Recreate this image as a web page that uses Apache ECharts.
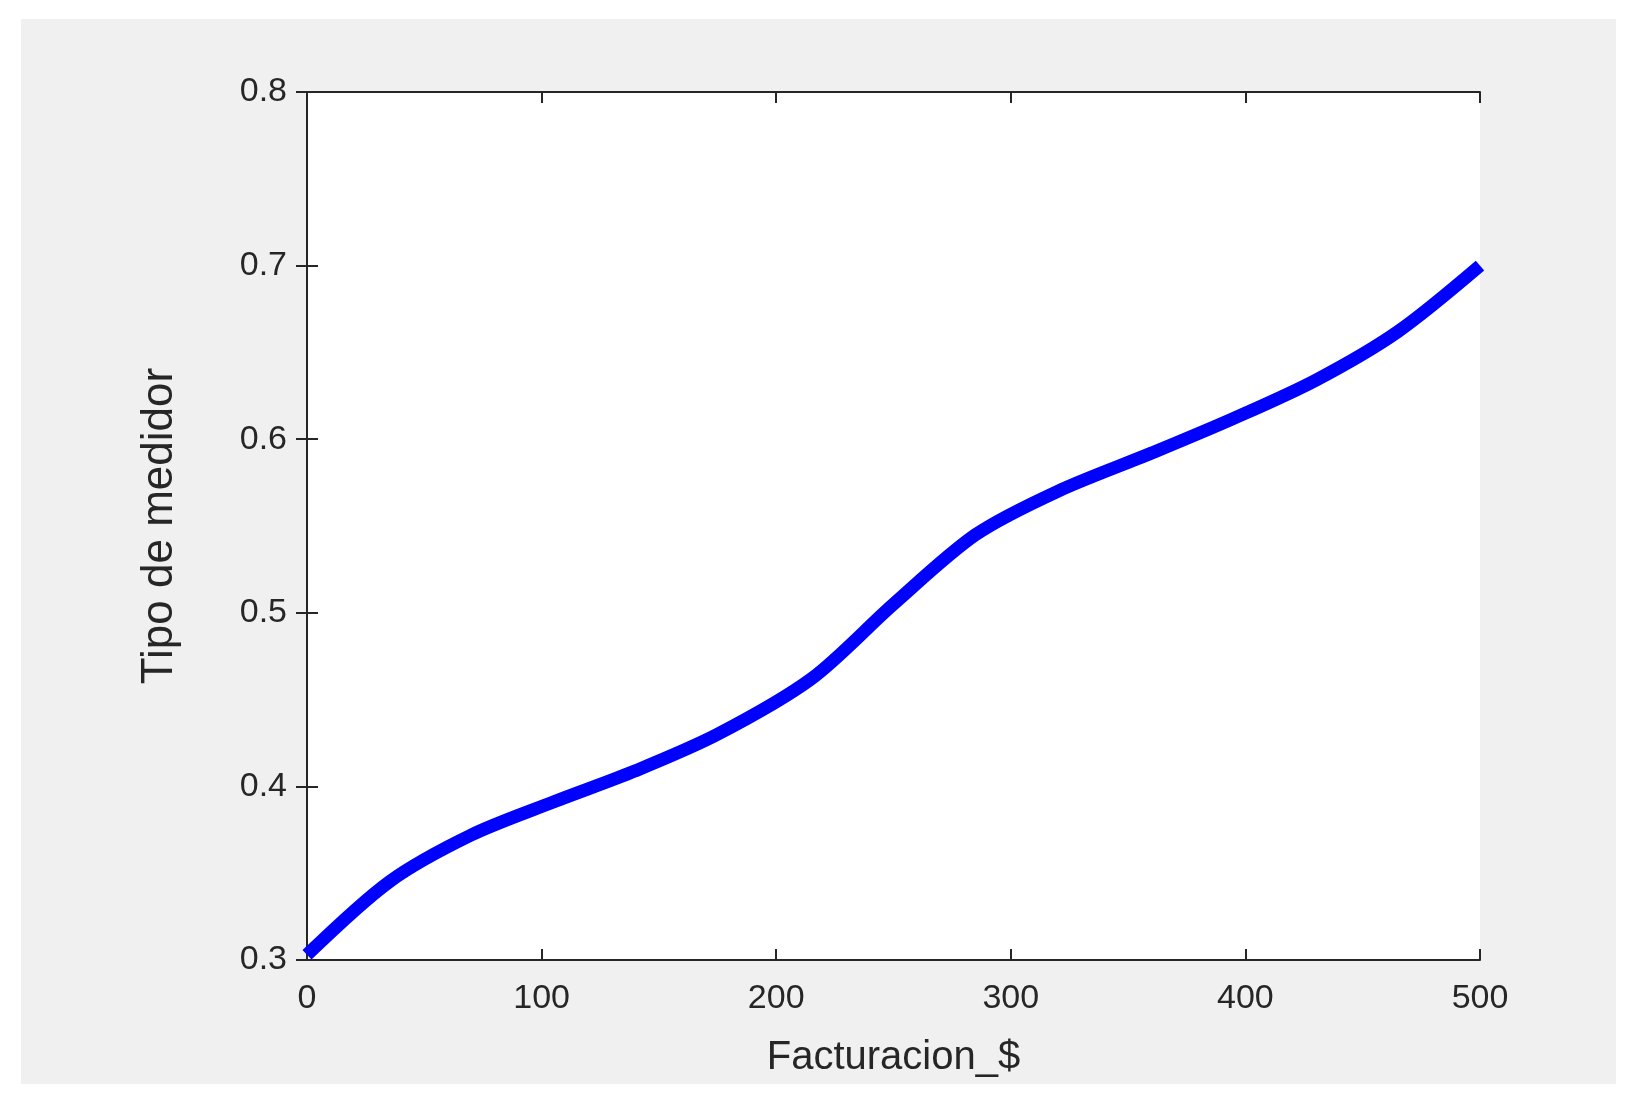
<!DOCTYPE html>
<html><head><meta charset="utf-8">
<script src="https://cdn.jsdelivr.net/npm/echarts@6/dist/echarts.min.js"></script>
<style>html,body{margin:0;background:#fff}#bg{position:absolute;left:21px;top:19px;width:1595px;height:1065px;background:#f0f0f0}#c{position:absolute;left:0;top:0;width:1642px;height:1108px}</style>
</head><body><div id="bg"></div><div id="c"></div>
<script>
const xs=[0,35,70,105,140,175,215,250,285,320,360,395,430,465,500];
const ys=[0.303,0.345,0.372,0.391,0.409,0.43,0.462,0.505,0.545,0.57,0.592,0.612,0.634,0.662,0.70];
const xTicks=[0,100,200,300,400,500];
const yTicks=[0.3,0.4,0.5,0.6,0.7,0.8];
const font='Liberation Sans';
const ch=echarts.init(document.getElementById('c'));
const ax={axisLine:{show:true,lineStyle:{color:'#262626',width:2}},axisTick:{show:true,inside:true,length:11,lineStyle:{color:'#262626',width:2}},splitLine:{show:false}};
ch.setOption({
 grid:{left:307,right:162,top:92,bottom:148,show:true,backgroundColor:'#fff',borderWidth:0},
 xAxis:[Object.assign({type:'value',min:0,max:500,interval:100,name:'Facturacion_$',nameLocation:'middle',nameGap:78,nameTextStyle:{fontFamily:font,fontSize:40,color:'#262626'},axisLabel:{fontFamily:font,fontSize:34,color:'#262626',margin:22}},ax),
        Object.assign({type:'value',min:0,max:500,interval:100,position:'top',axisLabel:{show:false}},ax)],
 yAxis:[Object.assign({type:'value',min:0.3,max:0.8,interval:0.1,name:'Tipo de medidor',nameLocation:'middle',nameGap:125,nameTextStyle:{fontFamily:font,fontSize:44,color:'#262626'},axisLabel:{fontFamily:font,fontSize:34,color:'#262626',margin:20,formatter:v=>v.toFixed(1)}},ax),
        Object.assign({type:'value',min:0.3,max:0.8,interval:0.1,position:'right',axisLabel:{show:false}},ax)],
 series:[{type:'line',data:xs.map((x,i)=>[x,ys[i]]),smooth:0.3,symbol:'none',lineStyle:{color:'#0000ff',width:13}}]
});
</script></body></html>
